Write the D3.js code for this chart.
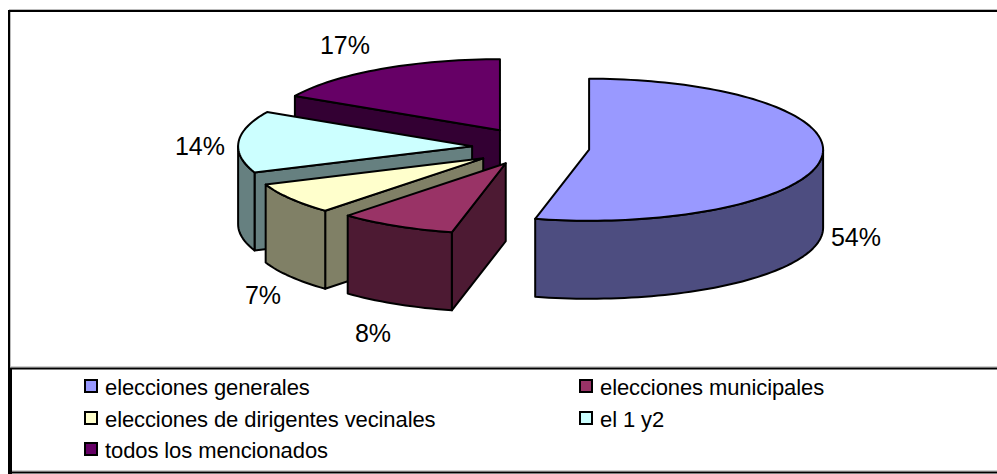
<!DOCTYPE html>
<html><head><meta charset="utf-8">
<style>html,body{margin:0;padding:0;background:#fff}svg{display:block}text{font-family:"Liberation Sans",Arial,sans-serif;fill:#000}</style>
<script src="https://cdn.jsdelivr.net/npm/d3@7"></script>
</head><body>
<svg id="c" width="997" height="474"></svg>
<script>
// ---- data ----
const categories = ["elecciones generales","elecciones municipales","elecciones de dirigentes vecinales","el 1 y2","todos los mencionados"];
const percentages = [53.7, 8.1, 7.2, 14, 17];
const topColors = ["#9999ff","#993366","#ffffcc","#ccffff","#660066"];
const wallColors = ["#4d4d80","#4d1a33","#808066","#668080","#330033"];
// ---- layout ----
const W = 997, H = 474;
const center = [531, 147.5], rx = 234, ry = 71, depth = 78, tilt = 0.33;
const explode = [58.5, 54, 58, 59, 61];
const labelPos = [[856,237],[373,333],[263,295],[200,146],[345,45]];
const drawOrder = [4, 3, 2, 1, 0];
const fontLabel = 25, fontLegend = 22;

const svg = d3.select("#c");
const pie = d3.pie().sort(null).value(d => d).startAngle(0).endAngle(2*Math.PI);
const arcs = pie(percentages);
const line = d3.line();

function pt(cx, cy, a, dz = 0) {
  return [cx + rx*Math.sin(a), cy - ry*Math.cos(a) + dz];
}
function rim(cx, cy, a0, a1, dz = 0) {
  const n = Math.max(2, Math.ceil(Math.abs(a1-a0)/0.03));
  return d3.range(n+1).map(i => pt(cx, cy, a0 + (a1-a0)*i/n, dz));
}
const stroke = s => s.attr("stroke","#000").attr("stroke-width",2).attr("stroke-linejoin","round");

// ---- frame ----
const shadow = [[[9,9.5],[W,9.5]], [[10.5,12],[10.5,367]], [[9,366.8],[W,366.8]], [[9,470.8],[W,470.8]]];
shadow.forEach(f => svg.append("path").attr("d",line(f)).attr("stroke","#bbb").attr("stroke-width",1).attr("fill","none"));
const frame = [
  [[8,11],[W,11]], [[9,10],[9,474]], [[11,368],[11,474]],
  [[9,368.6],[W,368.6]], [[9,472.4],[W,472.4]]
];
frame.forEach(f => svg.append("path").attr("d",line(f)).attr("stroke","#000").attr("stroke-width",2).attr("fill","none"));

// ---- slices, back to front ----
drawOrder.forEach(i => {
  const a = arcs[i];
  const mid = (a.startAngle + a.endAngle)/2;
  const cx = center[0] + explode[i]*Math.sin(mid);
  const cy = center[1] - explode[i]*tilt*Math.cos(mid);
  const g = svg.append("g");
  const apex = [cx, cy];
  const s = pt(cx,cy,a.startAngle);
  // radial wall at the start angle, visible for slices in the left half
  if (a.startAngle > Math.PI) {
    g.append("path").attr("d",line([apex, s, [s[0],s[1]+depth], [cx,cy+depth]])+"Z")
      .attr("fill",wallColors[i]).call(stroke);
  }
  // outer curved wall on the part that faces the viewer
  const w0 = Math.max(a.startAngle, Math.PI/2), w1 = Math.min(a.endAngle, Math.PI*1.5);
  if (w1 > w0) {
    g.append("path").attr("d",line(rim(cx,cy,w0,w1).concat(rim(cx,cy,w1,w0,depth)))+"Z")
      .attr("fill",wallColors[i]).call(stroke);
  }
  // top face
  g.append("path").attr("d",line([apex].concat(rim(cx,cy,a.startAngle,a.endAngle)))+"Z")
    .attr("fill",topColors[i]).call(stroke);
});

// ---- percentage labels ----
svg.selectAll(".pct").data(percentages).join("text").attr("class","pct")
  .attr("x",(d,i)=>labelPos[i][0]).attr("y",(d,i)=>labelPos[i][1])
  .attr("dy","0.36em").attr("text-anchor","middle").attr("font-size",fontLabel)
  .text(d=>Math.round(d)+"%");

// ---- legend ----
const legendCols = [85, 580], legendRows = [388, 420, 451];
const legendSlots = [[0,0],[1,0],[0,1],[1,1],[0,2]];
const lg = svg.selectAll(".lg").data(categories).join("g").attr("class","lg")
  .attr("transform",(d,i)=>`translate(${legendCols[legendSlots[i][0]]},${legendRows[legendSlots[i][1]]})`);
lg.append("rect").attr("x",0).attr("y",-8).attr("width",12).attr("height",12)
  .attr("fill",(d,i)=>topColors[i]).attr("stroke","#000").attr("stroke-width",2);
lg.append("text").attr("x",20).attr("dy","0.34em").attr("font-size",fontLegend)
  .attr("letter-spacing",-0.1).text(d=>d);
</script>
</body></html>
